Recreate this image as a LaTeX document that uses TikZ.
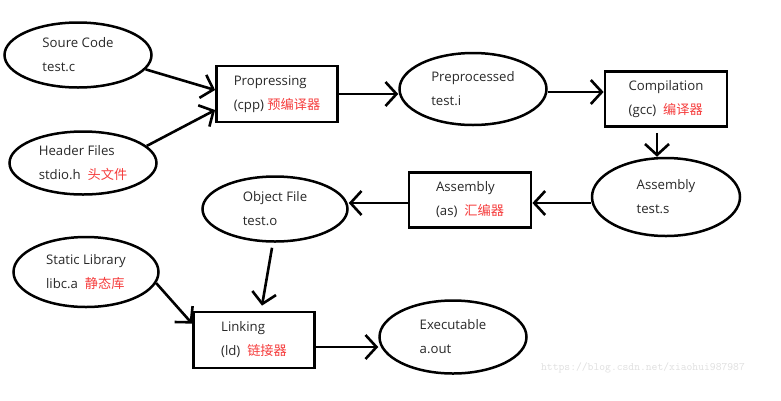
\documentclass[tikz,border=0pt]{standalone}
\usepackage{fontspec}
\setmainfont{Open Sans}
\newfontfamily\cjk{Noto Sans CJK SC}
\usetikzlibrary{shapes.geometric,arrows.meta}
\definecolor{zhred}{RGB}{245,60,60}
\definecolor{ink}{RGB}{40,40,40}
\newcommand{\zh}[1]{{\cjk\color{zhred}#1}}

\begin{document}
\begin{tikzpicture}[x=1pt, y=-1pt,
  every node/.style={font=\fontsize{13.2}{24}\selectfont, text=ink, align=left, inner sep=0pt},
  file/.style={draw, ellipse, line width=2.5pt},
  tool/.style={draw, rectangle, line width=2.8pt, minimum width=121pt, minimum height=56pt},
  flow/.style={line width=2.6pt, -{Straight Barb[length=11pt,width=24pt]}}]
\useasboundingbox (0,0) rectangle (781,400);
\node[file, minimum width=147pt, minimum height=65pt] (src) at (78,55) {Soure Code\\test.c};
\node[file, minimum width=147pt, minimum height=63pt] (hdr) at (83,163) {Header Files\\stdio.h \ \zh{头文件}};
\node[tool] (cpp) at (277,94) {Propressing\\ (cpp) \zh{预编译器}};
\node[file, minimum width=147pt, minimum height=72pt] (pre) at (473,89) {Preprocessed\\test.i};
\node[tool, minimum width=122pt, minimum height=55pt] (gcc) at (666,99) {Compilation\\(gcc) \ \zh{编译器}};
\node[file, minimum width=148pt, minimum height=78pt] (asm) at (666,197) {Assembly\\test.s};
\node[tool, minimum width=122pt, minimum height=55pt] (as) at (470,200) {Assembly\\(as) \ \zh{汇编器}};
\node[file, minimum width=145pt, minimum height=65pt] (obj) at (275,209) {Object File\\test.o};
\node[file, minimum width=145pt, minimum height=70pt] (lib) at (86,272) {Static Library\\libc.a \ \zh{静态库}};
\node[tool] (ld) at (254,340) {Linking\\(ld) \ \zh{链接器}};
\node[file, minimum width=147pt, minimum height=73pt] (exe) at (453,337) {Executable\\a.out};
\node[font=\ttfamily\fontsize{11.3}{12}\selectfont, text=gray!25] (url) at (643,368) {https://blog.csdn.net/xiaohui987987};
\draw[flow] (src.-12) -- ([yshift=4pt]cpp.west);
\draw[flow] (hdr.15) -- ([yshift=-16pt]cpp.west);
\draw[flow] (cpp.east) -- (cpp.east -| pre.west);
\draw[flow] ([yshift=-3pt]pre.east) -- ([yshift=7pt]gcc.west);
\draw[flow] ([xshift=-9pt,yshift=-5pt]gcc.south) -- ([xshift=-9pt]asm.north);
\draw[flow] ([yshift=-6pt]asm.west) -- ([yshift=-3pt]as.east);
\draw[flow] ([yshift=-3pt]as.west) -- ([yshift=6pt]obj.east);
\draw[flow] ([xshift=-3pt,yshift=-5pt]obj.south) -- ([xshift=8pt,yshift=5pt]ld.north);
\draw[flow] (lib.-9) -- ([yshift=-13pt]ld.north west);
\draw[flow] ([yshift=-7pt]ld.east) -- ([yshift=-10pt]exe.west);
\end{tikzpicture}
\end{document}
